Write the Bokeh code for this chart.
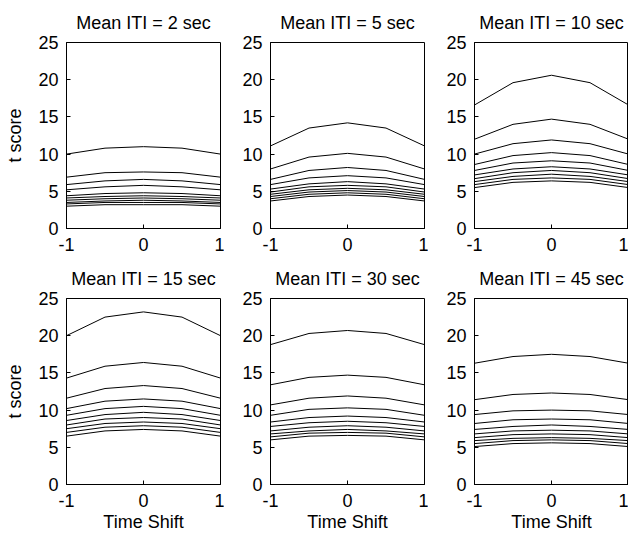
from bokeh.plotting import figure
from bokeh.layouts import gridplot
from bokeh.models import Range1d, FixedTicker
from bokeh.embed import file_html
from bokeh.resources import INLINE

time_shift = [-1.0, -0.5, 0.0, 0.5, 1.0]

titles = ["Mean ITI = 2 sec", "Mean ITI = 5 sec", "Mean ITI = 10 sec",
          "Mean ITI = 15 sec", "Mean ITI = 30 sec", "Mean ITI = 45 sec"]

iti_2 = [
    [10.0, 10.8, 11.0, 10.8, 10.0],
    [6.9, 7.5, 7.6, 7.5, 6.9],
    [5.9, 6.4, 6.6, 6.4, 5.9],
    [5.2, 5.6, 5.8, 5.6, 5.2],
    [4.4, 4.7, 4.8, 4.7, 4.4],
    [4.1, 4.3, 4.4, 4.3, 4.1],
    [3.8, 4.0, 4.1, 4.0, 3.8],
    [3.5, 3.7, 3.8, 3.7, 3.5],
    [3.3, 3.5, 3.5, 3.5, 3.3],
    [3.0, 3.2, 3.2, 3.2, 3.0],
]
iti_5 = [
    [11.1, 13.5, 14.2, 13.5, 11.1],
    [8.0, 9.6, 10.1, 9.6, 8.0],
    [6.6, 7.8, 8.2, 7.8, 6.6],
    [5.9, 6.8, 7.1, 6.8, 5.9],
    [5.3, 6.0, 6.3, 6.0, 5.3],
    [4.9, 5.6, 5.8, 5.6, 4.9],
    [4.6, 5.2, 5.4, 5.2, 4.6],
    [4.3, 4.9, 5.1, 4.9, 4.3],
    [4.0, 4.6, 4.8, 4.6, 4.0],
    [3.7, 4.3, 4.5, 4.3, 3.7],
]
iti_10 = [
    [16.6, 19.6, 20.6, 19.6, 16.6],
    [12.0, 14.0, 14.7, 14.0, 12.0],
    [10.0, 11.4, 11.9, 11.4, 10.0],
    [8.6, 9.8, 10.2, 9.8, 8.6],
    [7.8, 8.8, 9.1, 8.8, 7.8],
    [7.2, 8.0, 8.3, 8.0, 7.2],
    [6.7, 7.5, 7.8, 7.5, 6.7],
    [6.3, 7.0, 7.3, 7.0, 6.3],
    [5.9, 6.6, 6.8, 6.6, 5.9],
    [5.5, 6.2, 6.4, 6.2, 5.5],
]
iti_15 = [
    [20.0, 22.5, 23.2, 22.5, 20.0],
    [14.3, 15.9, 16.4, 15.9, 14.3],
    [11.6, 12.9, 13.3, 12.9, 11.6],
    [10.2, 11.2, 11.5, 11.2, 10.2],
    [9.3, 10.2, 10.5, 10.2, 9.3],
    [8.6, 9.4, 9.7, 9.4, 8.6],
    [8.0, 8.8, 9.0, 8.8, 8.0],
    [7.5, 8.2, 8.4, 8.2, 7.5],
    [7.0, 7.7, 7.9, 7.7, 7.0],
    [6.5, 7.2, 7.4, 7.2, 6.5],
]
iti_30 = [
    [18.8, 20.3, 20.7, 20.3, 18.8],
    [13.4, 14.4, 14.7, 14.4, 13.4],
    [10.7, 11.6, 11.9, 11.6, 10.7],
    [9.3, 10.1, 10.3, 10.1, 9.3],
    [8.4, 9.0, 9.2, 9.0, 8.4],
    [7.8, 8.3, 8.5, 8.3, 7.8],
    [7.2, 7.7, 7.9, 7.7, 7.2],
    [6.8, 7.2, 7.4, 7.2, 6.8],
    [6.4, 6.9, 7.0, 6.9, 6.4],
    [6.0, 6.5, 6.6, 6.5, 6.0],
]
iti_45 = [
    [16.3, 17.2, 17.5, 17.2, 16.3],
    [11.4, 12.1, 12.3, 12.1, 11.4],
    [9.4, 9.9, 10.0, 9.9, 9.4],
    [8.2, 8.7, 8.8, 8.7, 8.2],
    [7.4, 7.8, 8.0, 7.8, 7.4],
    [6.8, 7.2, 7.3, 7.2, 6.8],
    [6.3, 6.7, 6.8, 6.7, 6.3],
    [5.9, 6.2, 6.3, 6.2, 5.9],
    [5.5, 5.9, 6.0, 5.9, 5.5],
    [5.1, 5.5, 5.6, 5.5, 5.1],
]

x_ticks = [-1, 0, 1]
y_ticks = [0, 5, 10, 15, 20, 25]

panels = [iti_2, iti_5, iti_10, iti_15, iti_30, iti_45]
FONT = "Liberation Sans"
FS = "18px"


def style_axis(ax):
    ax.major_tick_in = 4
    ax.major_tick_out = 0
    ax.minor_tick_in = 0
    ax.minor_tick_out = 0
    ax.axis_line_color = "black"
    ax.major_tick_line_color = "black"
    ax.major_label_text_font = FONT
    ax.major_label_text_font_size = FS
    ax.major_label_text_color = "black"
    ax.axis_label_text_font = FONT
    ax.axis_label_text_font_size = FS
    ax.axis_label_text_font_style = "normal"
    ax.axis_label_text_color = "black"


figs = []
for i, (title, curves) in enumerate(zip(titles, panels)):
    r, c = divmod(i, 3)
    left = 66 if c == 0 else 46
    right = 4 if c < 2 else 0
    frame_w = 154
    width = left + frame_w + right
    top = 42
    bottom = 28 if r == 0 else 54
    height = top + 186 + bottom
    p = figure(width=width, height=height, output_backend="svg",
               toolbar_location=None, title=title,
               x_range=Range1d(-1, 1), y_range=Range1d(0, 25),
               min_border_left=left, min_border_right=right,
               min_border_top=top, min_border_bottom=bottom)
    for ys in curves:
        p.line(time_shift, ys, line_color="black", line_width=1)
    p.title.align = "center"
    p.title.text_font = FONT
    p.title.text_font_size = FS
    p.title.text_font_style = "normal"
    p.title.text_color = "black"
    p.title.standoff = 19
    p.xgrid.visible = False
    p.ygrid.visible = False
    p.outline_line_color = "black"
    p.outline_line_width = 1
    p.outline_line_alpha = 1

    xax = p.xaxis[0]
    yax = p.yaxis[0]
    style_axis(xax)
    style_axis(yax)
    xax.ticker = FixedTicker(ticks=x_ticks)
    yax.ticker = FixedTicker(ticks=y_ticks)
    xax.major_label_overrides = {-1: "-1"}
    xax.major_label_standoff = 9
    yax.major_label_standoff = 8

    if c == 0:
        yax.axis_label = "t score"
        yax.axis_label_standoff = 10
    if r == 1:
        xax.axis_label = "Time Shift"
        xax.axis_label_standoff = 2
    figs.append(p)

grid = gridplot([figs[0:3], figs[3:6]], toolbar_location=None)
open("out.html", "w").write(file_html(grid, INLINE))
